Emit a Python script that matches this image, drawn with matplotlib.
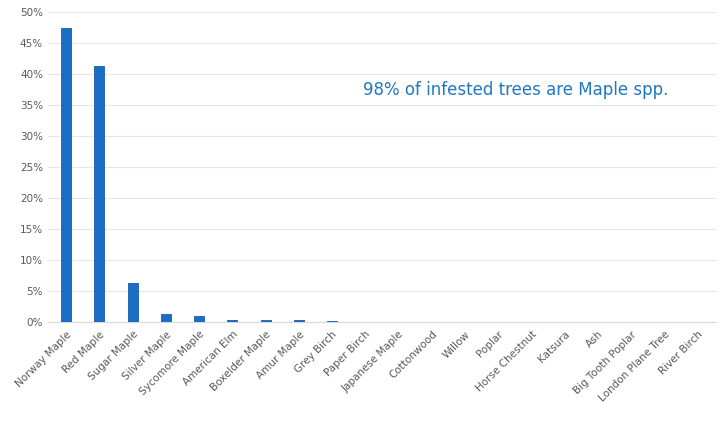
import matplotlib
matplotlib.use("Agg")
import matplotlib.pyplot as plt
from matplotlib.ticker import FuncFormatter, MultipleLocator

species = ["Norway Maple", "Red Maple", "Sugar Maple", "Silver Maple", "Sycomore Maple",
           "American Elm", "Boxelder Maple", "Amur Maple", "Grey Birch", "Paper Birch",
           "Japanese Maple", "Cottonwood", "Willow", "Poplar", "Horse Chestnut",
           "Katsura", "Ash", "Big Tooth Poplar", "London Plane Tree", "River Birch"]
share_pct = [47.4, 41.3, 6.3, 1.3, 1.0,
             0.4, 0.3, 0.3, 0.2, 0.05,
             0.03, 0.03, 0.03, 0.03, 0.03,
             0.03, 0.03, 0.03, 0.03, 0.03]

fig = plt.figure(figsize=(7.26, 4.24), dpi=100)
ax = fig.add_axes([0.066, 0.24, 0.92, 0.732])

x = range(len(species))
ax.bar(x, share_pct, width=0.3, color="#1b6cc4", edgecolor="#1560b0", linewidth=0.6, zorder=3)

ax.set_xlim(-0.55, len(species) - 0.45)
ax.set_ylim(0, 50)
ax.yaxis.set_major_locator(MultipleLocator(5))
ax.yaxis.set_major_formatter(FuncFormatter(lambda v, p: f"{v:.0f}%"))
ax.grid(axis="y", color="#e6e6e6", linewidth=0.8, zorder=0)
ax.set_axisbelow(True)

for side in ["top", "right", "left"]:
    ax.spines[side].set_visible(False)
ax.spines["bottom"].set_color("#d9d9d9")

ax.tick_params(axis="both", length=0, colors="#595959", labelsize=7.5)
ax.set_xticks(list(x))
ax.set_xticklabels(species, rotation=45, ha="right", rotation_mode="anchor")
ax.tick_params(axis="x", pad=5)

ax.text(0.70, 0.748, "98% of infested trees are Maple spp.", transform=ax.transAxes,
        ha="center", va="center", color="#1f78c1", fontsize=12)

fig.savefig("out.png", dpi=100)
